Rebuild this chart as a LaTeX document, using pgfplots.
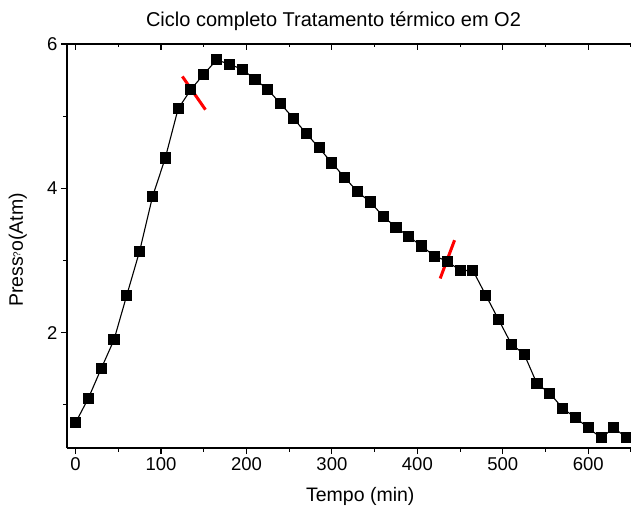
\documentclass[border=0pt]{standalone}
\usepackage{fontspec}
\setmainfont{Liberation Sans}
\usepackage{pgfplots}
\pgfplotsset{compat=1.18}
\begin{document}
\begin{tikzpicture}
\path[use as bounding box] (-67pt,-58pt) rectangle (564pt,448pt);
\pgfplotsset{
  common/.style={
    at={(0pt,0pt)}, anchor=south west,
    scale only axis, width=564pt, height=404pt,
    xmin=-10, xmax=650, ymin=0.4, ymax=6,
    axis line style={line width=1.3pt},
    xtick={0,100,...,600}, minor xtick={50,150,...,650},
    ytick={2,4,6}, minor ytick={1,3,5},
    major tick length=6pt, minor tick length=3.5pt,
    tick style={line width=1.1pt, black},
    /pgf/number format/assume math mode=true,
    tick label style={font=\fontsize{18.5}{20}\selectfont},
  }
}
\begin{axis}[common,
  axis x line*=top, axis y line=none,
  tick align=inside, xticklabels={},
]
\addplot[draw=none] coordinates {(0,1)};
\end{axis}
\begin{axis}[common,
  axis x line*=bottom, axis y line*=left,
  tick align=outside,
  clip=false,
  title={Ciclo completo Tratamento térmico em O2},
  title style={font=\fontsize{20}{22}\selectfont, at={(axis description cs:0.4725,1)}, anchor=base, yshift=12pt},
  xlabel={Tempo (min)},
  xlabel style={font=\fontsize{19.5}{22}\selectfont, at={(axis description cs:0.52,0)}, anchor=base, yshift=-53.7pt},
  ylabel={Press\raisebox{2.5pt}{\fontsize{10}{10}\selectfont ?}o(Atm)},
  ylabel style={font=\fontsize{19.5}{22}\selectfont, at={(axis description cs:-0.087,0.49)}, anchor=center, rotate=0},
]
\addplot[black, line width=1.1pt, mark=square*, mark size=5pt, mark options={solid, fill=black}] coordinates {
(0,0.75) (15,1.09) (30,1.50) (45,1.90) (60,2.52) (75,3.13) (90,3.88) (105,4.42)
(120,5.10) (135,5.37) (150,5.58) (165,5.78) (180,5.72) (195,5.65) (210,5.51) (225,5.37)
(240,5.17) (255,4.97) (270,4.76) (285,4.56) (300,4.35) (315,4.15) (330,3.95) (345,3.81)
(360,3.61) (375,3.46) (390,3.33) (405,3.20) (420,3.06) (435,2.99) (450,2.86) (465,2.86)
(480,2.52) (495,2.18) (510,1.84) (525,1.70) (540,1.29) (555,1.16) (570,0.95) (585,0.82)
(600,0.68) (615,0.54) (630,0.68) (645,0.54)
};
\addplot[red, line width=3pt] coordinates {(125,5.55) (152,5.09)};
\addplot[red, line width=3pt] coordinates {(443.5,3.28) (426.7,2.75)};
\end{axis}
\end{tikzpicture}
\end{document}
